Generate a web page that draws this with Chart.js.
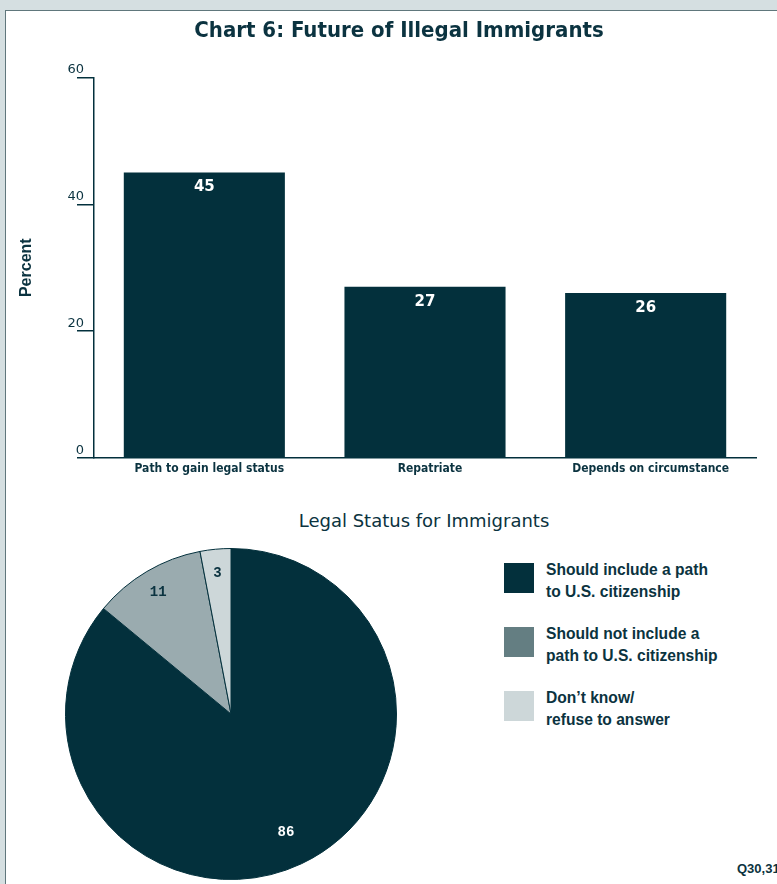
<!DOCTYPE html>
<html>
<head>
<meta charset="utf-8">
<script src="https://cdn.jsdelivr.net/npm/chart.js@4.4.1/dist/chart.umd.min.js"></script>
<style>
  html, body { margin: 0; padding: 0; width: 777px; height: 884px; overflow: hidden; background: #d5dfe1; }
  #panel { position: absolute; left: 5px; top: 10px; width: 820px; height: 900px; background: #ffffff; border-left: 1px solid #60777c; border-top: 1px solid #60777c; }
  #barWrap { position: absolute; left: 0; top: 0; width: 798px; height: 487px; }
  #pieWrap { position: absolute; left: 56px; top: 539px; width: 350px; height: 350px; }
  #pieTitle { position: absolute; left: 424px; top: 510px; transform: translateX(-50%); white-space: nowrap; line-height: 22px;
              font-family: "DejaVu Sans", sans-serif; font-size: 18px; color: #0b3340; }
  .legItem { position: absolute; left: 504px; }
  .legBox { position: absolute; left: 0; top: 0; width: 30px; height: 30px; }
  .legText { position: absolute; left: 42px; top: -4px; white-space: nowrap; line-height: 22px;
             font-family: "Liberation Sans", Arial, sans-serif; font-weight: bold; font-size: 15.6px; color: #0b3340; }
  #note { position: absolute; left: 737px; top: 861px; font-family: "Liberation Sans", Arial, sans-serif;
          font-weight: bold; font-size: 13px; color: #0b3340; white-space: nowrap; }
</style>
</head>
<body>
<div id="panel"></div>
<div id="barWrap"><canvas id="barChart" width="798" height="487"></canvas></div>
<div id="pieTitle">Legal Status for Immigrants</div>
<div id="pieWrap"><canvas id="pieChart" width="350" height="350"></canvas></div>
<div id="legend"></div>
<div id="note">Q30,31</div>
<script>
// Chart 6 data
const categories = ['Path to gain legal status', 'Repatriate', 'Depends on circumstance'];
const percentValues = [45, 27, 26];
const yTickValues = [0, 20, 40, 60];

// Legal status pie data
const statusLabels = [
  ['Should include a path', 'to U.S. citizenship'],
  ['Should not include a', 'path to U.S. citizenship'],
  ['Don\u2019t know/', 'refuse to answer']
];
const statusValues = [86, 11, 3];

const DARK = '#03303c';
const TEXT = '#0b3340';
const COND = '"DejaVu Sans Condensed", "Liberation Sans Narrow", sans-serif';
const sliceColors = [DARK, '#9aabaf', '#cdd7d9'];
const legendColors = [DARK, '#647e82', '#cdd7d9'];
const sliceLabelColors = ['#ffffff', TEXT, TEXT];

// white value labels just inside the top of each bar
const barValueLabels = {
  id: 'barValueLabels',
  afterDatasetsDraw(chart) {
    const ctx = chart.ctx;
    const meta = chart.getDatasetMeta(0);
    ctx.save();
    ctx.fillStyle = '#ffffff';
    ctx.font = 'bold 15px "DejaVu Sans", sans-serif';
    ctx.textAlign = 'center';
    ctx.textBaseline = 'middle';
    meta.data.forEach((bar, i) => {
      ctx.fillText(String(chart.data.datasets[0].data[i]), bar.x, bar.y + 15);
    });
    ctx.restore();
  }
};

new Chart(document.getElementById('barChart'), {
  type: 'bar',
  data: {
    labels: categories,
    datasets: [{
      data: percentValues,
      backgroundColor: DARK,
      borderWidth: 0,
      barPercentage: 0.73,
      categoryPercentage: 1.0
    }]
  },
  options: {
    responsive: false,
    animation: false,
    layout: { padding: { left: 42, right: 42, top: 0, bottom: 0 } },
    plugins: {
      legend: { display: false },
      tooltip: { enabled: false },
      title: {
        display: true,
        text: 'Chart 6: Future of Illegal Immigrants',
        color: TEXT,
        font: { family: COND, size: 22, weight: 'bold', lineHeight: 1.2 },
        padding: { top: 18, bottom: 33 }
      }
    },
    scales: {
      x: {
        grid: { display: true, drawOnChartArea: false, drawTicks: false },
        border: { display: true, color: DARK, width: 1.5 },
        ticks: {
          color: TEXT,
          padding: 4,
          labelOffset: 5,
          maxRotation: 0,
          font: { family: COND, size: 12, weight: 'bold' }
        },
        afterFit(scale) { scale.height = 29; }
      },
      y: {
        min: 0,
        max: 60,
        afterBuildTicks(scale) { scale.ticks = yTickValues.map(v => ({ value: v })); },
        grid: { display: true, drawOnChartArea: false, drawTicks: true, tickLength: 17, color: DARK, lineWidth: 1.5 },
        border: { display: true, color: DARK, width: 1.5 },
        ticks: {
          color: TEXT,
          padding: -7,
          labelOffset: -7.5,
          font: { family: '"DejaVu Sans", sans-serif', size: 13 }
        },
        title: {
          display: true,
          text: 'Percent',
          color: TEXT,
          font: { family: '"Liberation Sans", Arial, sans-serif', size: 16, weight: 'bold', lineHeight: 1.2 },
          padding: { top: -25.5, bottom: 0 }
        },
        afterFit(scale) { scale.width = 52; }
      }
    }
  },
  plugins: [barValueLabels]
});

// value labels placed inside each slice
const sliceValueLabels = {
  id: 'sliceValueLabels',
  afterDatasetsDraw(chart) {
    const ctx = chart.ctx;
    const meta = chart.getDatasetMeta(0);
    ctx.save();
    ctx.font = 'bold 14px "Liberation Mono", "DejaVu Sans Mono", monospace';
    ctx.textAlign = 'center';
    ctx.textBaseline = 'middle';
    meta.data.forEach((arc, i) => {
      const v = chart.data.datasets[0].data[i];
      const mid = (arc.startAngle + arc.endAngle) / 2;
      const r = arc.outerRadius * (v > 50 ? 0.78 : 0.865);
      ctx.fillStyle = sliceLabelColors[i];
      ctx.fillText(String(v), arc.x + Math.cos(mid) * r, arc.y + Math.sin(mid) * r + 2);
    });
    ctx.restore();
  }
};

new Chart(document.getElementById('pieChart'), {
  type: 'pie',
  data: {
    labels: statusLabels.map(l => l.join(' ')),
    datasets: [{
      data: statusValues,
      backgroundColor: sliceColors,
      borderColor: DARK,
      borderWidth: 1
    }]
  },
  options: {
    responsive: false,
    animation: false,
    layout: { padding: 9 },
    plugins: { legend: { display: false }, tooltip: { enabled: false } }
  },
  plugins: [sliceValueLabels]
});

// legend for the pie
const legendTops = [563, 627, 691];
const legendEl = document.getElementById('legend');
statusLabels.forEach((lines, i) => {
  const item = document.createElement('div');
  item.className = 'legItem';
  item.style.top = legendTops[i] + 'px';
  const box = document.createElement('div');
  box.className = 'legBox';
  box.style.background = legendColors[i];
  const txt = document.createElement('div');
  txt.className = 'legText';
  txt.innerHTML = lines.join('<br>');
  item.appendChild(box);
  item.appendChild(txt);
  legendEl.appendChild(item);
});
</script>
</body>
</html>
